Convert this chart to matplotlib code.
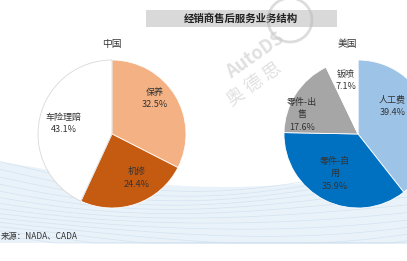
import matplotlib
matplotlib.use('Agg')
import numpy as np
import matplotlib.pyplot as plt
from matplotlib.patches import Rectangle, Circle

plt.rcParams['font.family'] = ['Noto Sans CJK SC', 'DejaVu Sans']

# data
title = '经销商售后服务业务结构'
cn_labels = ['保养', '机修', '车险理赔']
cn_values = [32.5, 24.4, 43.1]
cn_colors = ['#F4B183', '#C55A11', '#FFFFFF']
us_labels = ['人工费', '零件-自\n用', '零件-出\n售', '钣喷']
us_values = [39.4, 35.9, 17.6, 7.1]
us_colors = ['#9DC3E6', '#0070C0', '#A6A6A6', '#FFFFFF']
source = '来源：NADA、CADA'

W, H = 407, 261
fig = plt.figure(figsize=(W / 100, H / 100), dpi=100)

# background wave (decoration)
bg = fig.add_axes([0, 0, 1, 1], zorder=0)
bg.set_xlim(0, W)
bg.set_ylim(H, 0)
bg.axis('off')
xs = np.linspace(0, W, 200)
top = 165 + 22 * np.sin((xs - 20) / 130)
bg.fill_between(xs, top, 243, color='#EAF2F9', lw=0)
for k in range(14):
    yk = top + k * 6 + 6 * np.sin(xs / 90 + k * 0.3)
    bg.plot(xs, np.minimum(yk, 243), color='#C9DDEE', lw=0.5, alpha=0.7)
bg.add_patch(Rectangle((146, 10), 191, 17, color='#D9D9D9', lw=0))
bg.text(241, 18.5, title, ha='center', va='center', fontsize=7.5,
        fontweight='bold', color='#222222')
bg.text(112, 44, '中国', ha='center', va='center', fontsize=7, color='#333333')
bg.text(347, 44, '美国', ha='center', va='center', fontsize=7, color='#333333')
bg.text(1, 237, source, ha='left', va='center', fontsize=6, color='#333333')

def draw_pie(cx, values, colors, labels, dists, edge):
    r = 74
    ax = fig.add_axes([(cx - r) / W, 1 - (134 + r) / H, 2 * r / W, 2 * r / H],
                      zorder=2)
    wedges, _ = ax.pie(values, colors=colors, startangle=90, counterclock=False,
                       wedgeprops=dict(edgecolor='white', linewidth=0.6))
    for w, c in zip(wedges, colors):
        if c == '#FFFFFF':
            w.set_edgecolor(edge)
    for w, lab, v, d in zip(wedges, labels, values, dists):
        ang = np.deg2rad((w.theta1 + w.theta2) / 2 + d[1])
        ax.text(d[0] * np.cos(ang), d[0] * np.sin(ang), '%s\n%.1f%%' % (lab, v),
                ha='center', va='center', fontsize=6.5, color='#333333',
                linespacing=1.5, clip_on=False)
    ax.set_xlim(-1, 1)
    ax.set_ylim(-1, 1)
    ax.set_aspect('equal')
    return ax

draw_pie(112, cn_values, cn_colors, cn_labels,
         [(0.75, 8), (0.68, 10), (0.67, 0)], '#D9D9D9')
draw_pie(358, us_values, us_colors, us_labels,
         [(0.6, 20), (0.62, -4), (0.8, 14), (0.75, 0)], '#FFFFFF')

# watermark
bg.add_patch(Circle((290, 20), 22, fill=False, ec='#BBBBBB', lw=2, alpha=0.5, zorder=5))
bg.text(255, 55, 'AutoDS', rotation=35, fontsize=13, fontweight='bold',
        color='#CCCCCC', alpha=0.6, ha='center', va='center', zorder=5)
bg.text(255, 85, '奥 德 思', rotation=35, fontsize=13, color='#CCCCCC',
        alpha=0.6, ha='center', va='center', zorder=5)

plt.savefig('out.png', dpi=100)
